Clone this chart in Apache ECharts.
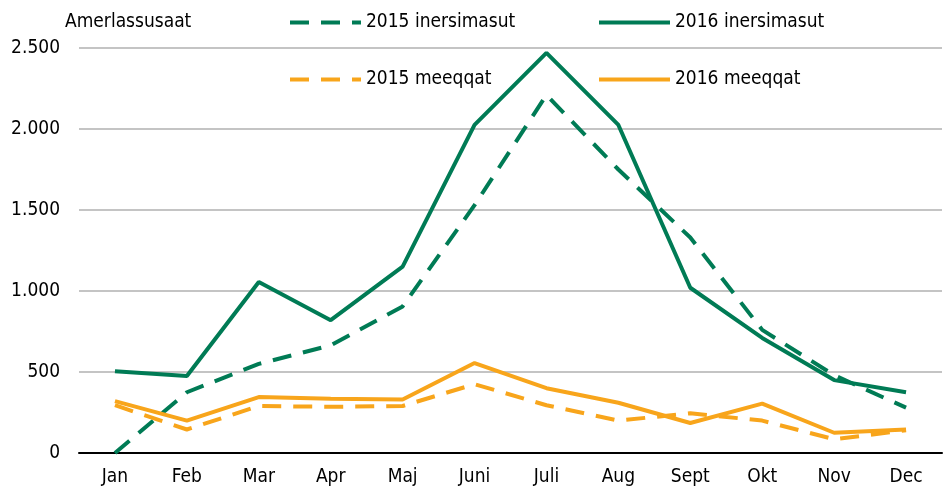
<!DOCTYPE html>
<html>
<head>
<meta charset="utf-8">
<script src="https://cdn.jsdelivr.net/npm/echarts@6/dist/echarts.min.js"></script>
<style>html,body{margin:0;padding:0;background:#fff}#c{width:945px;height:490px}</style>
</head>
<body>
<div id="c"></div>
<script>
var months = ['Jan','Feb','Mar','Apr','Maj','Juni','Juli','Aug','Sept','Okt','Nov','Dec'];
var yTicks = [0, 500, 1000, 1500, 2000, 2500];
var ins2015 = [0, 375, 550, 665, 905, 1530, 2210, 1750, 1330, 760, 480, 280];
var ins2016 = [505, 475, 1055, 820, 1150, 2025, 2470, 2025, 1020, 710, 450, 375];
var mee2015 = [295, 145, 290, 285, 290, 425, 295, 200, 245, 200, 85, 140];
var mee2016 = [320, 200, 345, 335, 330, 555, 400, 310, 185, 305, 125, 145];

var FONT = '"DejaVu Sans Condensed", "Liberation Sans Narrow", sans-serif';
var FS = 19;
var GREEN = '#007b55', ORANGE = '#f8a51b';
var DASH = [19, 12];

function fmt(v){ return String(v).replace(/\B(?=(\d{3})+(?!\d))/g, '.'); }

function legend(name, left, top){
  return {
    data: [name], left: left, top: top, itemWidth: 71, itemHeight: 14,
    textStyle: {fontFamily: FONT, fontSize: FS, color: '#000'}, selectedMode: false,
    itemStyle: {color: 'rgba(0,0,0,0)', borderWidth: 0, opacity: 0},
    lineStyle: {width: 4}
  };
}
function series(name, data, color, dashed){
  return {
    name: name, type: 'line', data: data, symbol: 'none', showSymbol: false, smooth: false,
    lineStyle: {color: color, width: 4, type: dashed ? DASH : 'solid'},
    itemStyle: {color: color}, animation: false
  };
}

var chart = echarts.init(document.getElementById('c'));
chart.setOption({
  animation: false,
  textStyle: {fontFamily: FONT},
  title: {text: 'Amerlassusaat', left: 60, top: 8,
    textStyle: {fontFamily: FONT, fontSize: FS, fontWeight: 'normal', color: '#000'}},
  legend: [
    legend('2015 inersimasut', 283, 8),
    legend('2016 inersimasut', 592, 8),
    legend('2015 meeqqat', 283, 65),
    legend('2016 meeqqat', 592, 65)
  ],
  grid: {left: 79, right: 3, top: 48, bottom: 37, containLabel: false},
  xAxis: {
    type: 'category', data: months, boundaryGap: true,
    axisTick: {show: false},
    axisLine: {lineStyle: {color: '#000', width: 2}},
    axisLabel: {fontFamily: FONT, fontSize: FS, color: '#000', margin: 15}
  },
  yAxis: {
    type: 'value', min: yTicks[0], max: yTicks[yTicks.length-1], interval: 500,
    axisLine: {show: false}, axisTick: {show: false},
    splitLine: {lineStyle: {color: '#c4c4c4', width: 2}},
    axisLabel: {fontFamily: FONT, fontSize: FS, color: '#000', margin: 19, formatter: fmt}
  },
  series: [
    series('2015 inersimasut', ins2015, GREEN, true),
    series('2016 inersimasut', ins2016, GREEN, false),
    series('2015 meeqqat', mee2015, ORANGE, true),
    series('2016 meeqqat', mee2016, ORANGE, false)
  ]
});
</script>
</body>
</html>
